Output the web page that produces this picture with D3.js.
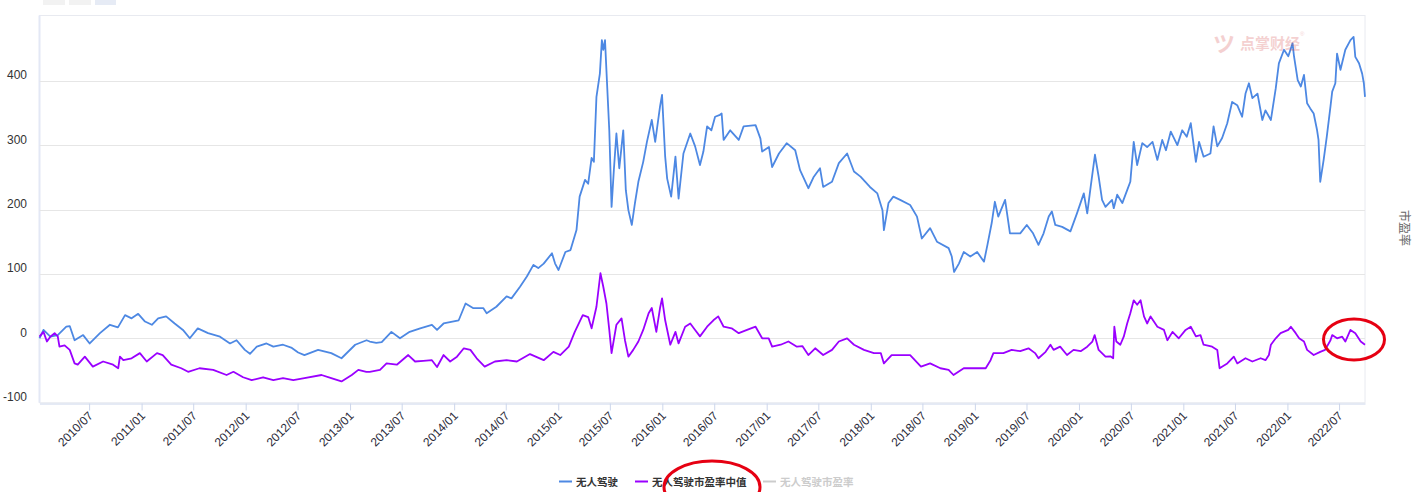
<!DOCTYPE html>
<html><head><meta charset="utf-8">
<script src="https://cdn.jsdelivr.net/npm/d3@7"></script>
<style>
html,body{margin:0;padding:0;background:#fff;}
svg{display:block;font-family:"Liberation Sans",Arial,"Noto Sans CJK SC",sans-serif;}
</style></head>
<body><svg id="c" width="1413" height="492"></svg>
<script>
// ---- data ----
const xTickLabels = ["2010/07","2011/01","2011/07","2012/01","2012/07","2013/01","2013/07","2014/01","2014/07","2015/01","2015/07","2016/01","2016/07","2017/01","2017/07","2018/01","2018/07","2019/01","2019/07","2020/01","2020/07","2021/01","2021/07","2022/01","2022/07"];
const yTicks = [-100,0,100,200,300,400];
const seriesNames = ["无人驾驶","无人驾驶市盈率中值","无人驾驶市盈率"];
const axisTitle = "市盈率";

const blueDates = ["2010-01-08","2010-01-22","2010-02-15","2010-03-13","2010-04-12","2010-04-24","2010-05-11","2010-06-10","2010-07-03","2010-08-08","2010-09-12","2010-10-10","2010-11-04","2010-11-27","2010-12-20","2011-01-13","2011-02-06","2011-02-28","2011-03-28","2011-04-27","2011-05-26","2011-06-19","2011-07-17","2011-08-22","2011-10-03","2011-11-07","2011-11-30","2011-12-29","2012-01-16","2012-02-09","2012-03-14","2012-04-07","2012-05-11","2012-06-11","2012-07-03","2012-07-25","2012-09-11","2012-10-27","2012-12-02","2013-01-19","2013-02-28","2013-03-11","2013-04-03","2013-04-22","2013-05-26","2013-06-25","2013-07-29","2013-09-04","2013-10-15","2013-11-02","2013-11-25","2014-01-17","2014-02-10","2014-03-08","2014-04-13","2014-04-25","2014-05-29","2014-07-04","2014-07-21","2014-08-20","2014-09-13","2014-10-06","2014-10-23","2014-11-11","2014-12-10","2014-12-21","2015-01-02","2015-01-26","2015-02-13","2015-03-06","2015-03-17","2015-04-05","2015-04-16","2015-04-28","2015-05-06","2015-05-15","2015-05-27","2015-06-03","2015-06-08","2015-06-14","2015-06-22","2015-06-29","2015-07-07","2015-07-15","2015-07-24","2015-08-03","2015-08-17","2015-08-26","2015-09-04","2015-09-16","2015-09-27","2015-10-09","2015-10-26","2015-11-08","2015-11-25","2015-12-07","2015-12-24","2015-12-31","2016-01-11","2016-01-18","2016-02-01","2016-02-16","2016-02-27","2016-03-15","2016-04-08","2016-04-25","2016-05-12","2016-05-24","2016-06-06","2016-06-21","2016-07-04","2016-07-21","2016-07-27","2016-08-03","2016-08-26","2016-09-25","2016-10-12","2016-11-23","2016-12-10","2016-12-16","2017-01-09","2017-01-20","2017-02-13","2017-03-12","2017-04-11","2017-04-28","2017-05-27","2017-06-14","2017-07-07","2017-07-18","2017-08-18","2017-09-11","2017-10-10","2017-11-03","2017-11-26","2017-12-29","2018-01-24","2018-02-11","2018-02-16","2018-03-04","2018-03-21","2018-04-14","2018-05-19","2018-06-12","2018-06-29","2018-07-28","2018-08-21","2018-10-01","2018-10-12","2018-10-20","2018-11-06","2018-11-23","2018-12-16","2019-01-09","2019-02-02","2019-02-14","2019-03-01","2019-03-12","2019-03-24","2019-04-17","2019-05-04","2019-06-09","2019-07-02","2019-07-24","2019-08-12","2019-08-30","2019-09-17","2019-09-28","2019-10-10","2019-11-03","2019-12-02","2019-12-25","2020-01-18","2020-01-30","2020-02-11","2020-02-26","2020-03-10","2020-03-22","2020-04-03","2020-04-26","2020-05-02","2020-05-14","2020-06-01","2020-06-18","2020-06-29","2020-07-11","2020-07-23","2020-08-10","2020-08-27","2020-09-15","2020-10-02","2020-10-19","2020-11-01","2020-11-18","2020-12-11","2020-12-28","2021-01-13","2021-01-27","2021-02-14","2021-02-25","2021-03-13","2021-04-06","2021-04-17","2021-04-30","2021-05-17","2021-06-04","2021-06-21","2021-07-09","2021-07-26","2021-08-07","2021-08-19","2021-08-31","2021-09-18","2021-10-05","2021-10-16","2021-11-04","2021-11-21","2021-12-02","2021-12-20","2022-01-04","2022-01-19","2022-01-24","2022-02-06","2022-02-17","2022-02-28","2022-03-11","2022-03-22","2022-04-03","2022-04-15","2022-04-20","2022-04-26","2022-05-08","2022-05-19","2022-06-01","2022-06-07","2022-06-18","2022-06-24","2022-07-06","2022-07-23","2022-08-10","2022-08-21","2022-08-27","2022-09-09","2022-09-20","2022-09-26","2022-09-30"];
const blueValues = [0,13,2.5,5,18,19,-3,5,-8,8,21,17,36,31,38,26,21,31,34,23,13,0,15.5,8,2.5,-8,-3,-18,-24,-13,-8,-13,-10,-15,-22,-26,-18,-23,-31,-10,-3,-5,-7,-6,10,0,10,15.5,21,13,23,28,54,47,47,39,49,65,62,80,96,114,109,116,132,116,106,134,137,168,220,246,240,280,274,375,411,463,448,463,388,323,204,261,318,264,323,230,199,176,210,243,274,305,339,305,360,378,282,248,220,282,217,287,318,298,269,290,329,323,344,347,349,308,323,308,329,331,310,290,297,266,287,303,292,261,233,250,264,235,243,272,287,259,251,235,225,199,168,210,220,215,207,189,155,171,150,140,127,103,116,134,127,134,119,145,179,212,189,215,163,163,176,163,145,163,189,197,176,173,166,194,225,194,235,285,251,215,204,215,202,223,210,230,243,305,269,303,297,305,277,308,292,321,300,323,313,334,274,305,282,287,329,298,311,334,367,362,344,380,396,373,380,339,354,339,388,427,448,438,458,438,401,391,409,365,357,349,323,308,243,277,313,360,383,396,442,417,448,463,468,437,427,411,396,375];

const purpleDates = ["2010-01-08","2010-01-22","2010-02-03","2010-02-15","2010-03-02","2010-03-13","2010-03-19","2010-04-06","2010-04-24","2010-05-11","2010-05-22","2010-06-16","2010-07-14","2010-08-19","2010-09-23","2010-10-11","2010-10-17","2010-10-29","2010-11-27","2010-12-26","2011-01-19","2011-02-24","2011-03-16","2011-04-15","2011-05-20","2011-06-13","2011-07-23","2011-09-09","2011-10-26","2011-11-19","2011-12-23","2012-01-22","2012-03-02","2012-04-07","2012-05-11","2012-06-16","2012-07-25","2012-09-23","2012-10-27","2012-12-02","2013-01-07","2013-01-30","2013-02-27","2013-03-11","2013-04-16","2013-05-09","2013-06-14","2013-07-24","2013-08-17","2013-09-15","2013-10-15","2013-11-02","2013-11-25","2013-12-18","2014-01-11","2014-02-04","2014-02-27","2014-03-21","2014-04-18","2014-05-24","2014-07-04","2014-08-09","2014-09-24","2014-11-11","2014-12-15","2015-01-08","2015-02-07","2015-02-28","2015-03-28","2015-04-16","2015-04-28","2015-05-15","2015-05-29","2015-06-08","2015-06-19","2015-06-29","2015-07-07","2015-07-24","2015-08-11","2015-08-23","2015-09-04","2015-09-21","2015-10-09","2015-10-26","2015-11-14","2015-11-25","2015-12-11","2015-12-24","2015-12-31","2016-01-11","2016-01-29","2016-02-16","2016-02-27","2016-03-21","2016-04-08","2016-04-25","2016-05-12","2016-06-06","2016-06-28","2016-07-15","2016-08-03","2016-08-31","2016-09-25","2016-10-24","2016-11-23","2016-12-16","2017-01-08","2017-01-20","2017-02-19","2017-03-18","2017-04-17","2017-05-06","2017-05-27","2017-06-20","2017-07-18","2017-08-18","2017-09-11","2017-10-10","2017-11-03","2017-12-08","2018-01-12","2018-02-05","2018-02-16","2018-03-15","2018-04-14","2018-05-19","2018-06-26","2018-07-28","2018-09-02","2018-10-01","2018-10-18","2018-11-23","2019-01-09","2019-02-08","2019-02-25","2019-03-07","2019-04-11","2019-05-10","2019-06-09","2019-07-08","2019-07-31","2019-08-12","2019-09-06","2019-09-23","2019-10-04","2019-10-27","2019-11-20","2019-12-13","2020-01-07","2020-01-30","2020-02-17","2020-02-25","2020-03-10","2020-04-03","2020-04-20","2020-04-30","2020-05-04","2020-05-11","2020-05-25","2020-06-06","2020-06-18","2020-06-29","2020-07-11","2020-07-23","2020-08-04","2020-08-16","2020-08-27","2020-09-08","2020-10-02","2020-10-25","2020-11-06","2020-11-24","2020-12-16","2021-01-09","2021-01-27","2021-02-14","2021-03-02","2021-03-13","2021-04-12","2021-04-30","2021-05-08","2021-06-04","2021-06-27","2021-07-09","2021-08-07","2021-08-31","2021-09-29","2021-10-16","2021-10-28","2021-11-04","2021-11-21","2021-12-08","2022-01-04","2022-01-13","2022-01-30","2022-02-11","2022-02-28","2022-03-11","2022-04-03","2022-04-26","2022-05-13","2022-06-01","2022-06-07","2022-06-24","2022-07-12","2022-07-23","2022-08-10","2022-08-27","2022-09-15","2022-09-30"];
const purpleValues = [2.5,10,-5,2.5,8,3,-13,-11,-18,-39,-41,-28.5,-44,-36,-41,-46.5,-28.5,-34,-31,-23,-36,-23,-26,-41,-46.5,-52,-46.5,-49,-57,-52,-60.5,-65,-60.5,-65,-62,-65,-62,-57,-62,-67,-57,-49,-52,-52,-49,-39,-41,-26,-36,-35,-34,-44.5,-26,-36,-28.5,-15.5,-18,-31,-44,-36,-34,-36,-24.5,-34,-21,-26,-13,10,36,33,15.5,49,101,80,54,13,-23,21,31,-3,-28.5,-18,-5,13,39,47,10,47,62,28,-10,10,-8,18,23,13,3,18,28,34,18,15.5,8,13,18,0,0,-13,-10,-5,-13,-12,-26,-15.5,-26,-18,-5,0,-10,-18,-23,-23,-39,-26,-26,-26,-44,-39,-46.5,-49,-57,-46.5,-46.5,-46.5,-34,-23,-23,-18,-20,-15.5,-23,-31,-21,-10,-18,-13,-26,-18,-20,-13,-5,5,-18,-28.5,-28,-31,18,-5,-10,2.5,23,39,59,52,59,34,23,34,18,13,-3,10,0,13,18,3,5,-10,-13,-18,-46.5,-39,-28.5,-39,-31,-36,-31,-34,-26,-10,0,8,13,18,8,0,-5,-18,-26,-21,-18,-3,5,0,2.5,-5,13,8,-5,-10];

// ---- layout ----
const plot = {left: 39.5, right: 1365, top: 15.5};
const parse = d3.timeParse("%Y-%m-%d");
const svg = d3.select("#c");

const x = d3.scaleTime()
  .domain([parse("2010-01-08"), parse("2022-09-30")])
  .range([plot.left, plot.right]);
const y = d3.scaleLinear().domain([-100, 500]).range([402.7, 16.3]);

// range-selector buttons peeking at the top
const btns = [[43,22,"#f2f2f2"],[69,22,"#f2f2f2"],[95,21,"#e6ebf5"]];
svg.selectAll("rect.btn").data(btns).enter().append("rect")
  .attr("x", d => d[0]).attr("y", -10).attr("width", d => d[1]).attr("height", 15)
  .attr("fill", d => d[2]);

// plot border
svg.append("rect").attr("x", plot.left).attr("y", plot.top)
  .attr("width", plot.right - plot.left).attr("height", y(-100) - plot.top)
  .attr("fill", "none").attr("stroke", "#e8eaf0").attr("stroke-width", 1);
svg.append("line").attr("x1", plot.left).attr("x2", plot.left)
  .attr("y1", plot.top).attr("y2", y(-100)).attr("stroke", "#e3e8f5").attr("stroke-width", 2);

// gridlines
svg.append("g").selectAll("line").data(yTicks.filter(v => v > -100)).enter().append("line")
  .attr("x1", plot.left).attr("x2", plot.right)
  .attr("y1", d => Math.round(y(d)) + 0.5).attr("y2", d => Math.round(y(d)) + 0.5)
  .attr("stroke", "#e6e6e6").attr("stroke-width", 1);

// y labels
svg.append("g").selectAll("text").data(yTicks).enter().append("text")
  .attr("x", 27).attr("y", d => y(d) - 1.5)
  .attr("text-anchor", "end").attr("font-size", 12).attr("fill", "#333")
  .text(d => d);

// x axis
const tickDates = xTickLabels.map(s => d3.timeParse("%Y/%m")(s));
const xAxis = d3.axisBottom(x).tickValues(tickDates).tickFormat(d3.timeFormat("%Y/%m")).tickSize(7).tickSizeOuter(0);
const gx = svg.append("g").attr("transform", `translate(0,${Math.round(y(-100)) + 0.5})`).call(xAxis);
gx.select(".domain").attr("stroke", "#ccd6eb");
gx.selectAll(".tick line").attr("stroke", "#ccd6eb");
gx.selectAll(".tick text")
  .attr("font-size", 12).attr("fill", "#2b2b3a").attr("font-family", "Liberation Sans, Arial, sans-serif")
  .attr("text-anchor", "end").attr("dy", null).attr("y", 0)
  .attr("transform", "translate(4,13) rotate(-45)");

// lines
const line = d3.line().x(d => x(d[0])).y(d => y(d[1]));
const blue = blueDates.map((d, i) => [parse(d), blueValues[i]]);
const purple = purpleDates.map((d, i) => [parse(d), purpleValues[i]]);
svg.append("path").datum(blue).attr("d", line).attr("fill", "none")
  .attr("stroke", "#4d88e3").attr("stroke-width", 1.8).attr("stroke-linejoin", "round");
svg.append("path").datum(purple).attr("d", line).attr("fill", "none")
  .attr("stroke", "#9a00ff").attr("stroke-width", 1.8).attr("stroke-linejoin", "round");

// watermark
const wm = svg.append("g").attr("opacity", 0.22);
wm.append("text").attr("x", 1240).attr("y", 49).attr("font-size", 15).attr("font-weight", "bold")
  .attr("fill", "#d03030").attr("font-family", "Noto Sans CJK SC").text("点掌财经");
wm.append("text").attr("x", 1300).attr("y", 36).attr("font-size", 6).attr("fill", "#d03030").text("®");
wm.append("text").attr("x", 1213).attr("y", 52).attr("font-size", 22).attr("font-weight", "bold")
  .attr("fill", "#d03030").attr("font-family", "Noto Sans CJK SC").text("ツ");

// right axis title
svg.append("text").attr("transform", "translate(1400,228) rotate(90)")
  .attr("text-anchor", "middle").attr("font-size", 12).attr("fill", "#666")
  .attr("font-family", "Noto Sans CJK SC").text(axisTitle);

// legend
const legend = [
  {x: 559, color: "#4d88e3", text: seriesNames[0], tc: "#333"},
  {x: 635, color: "#9a00ff", text: seriesNames[1], tc: "#333"},
  {x: 763, color: "#cccccc", text: seriesNames[2], tc: "#cccccc"}
];
const lg = svg.append("g").selectAll("g").data(legend).enter().append("g");
lg.append("line").attr("x1", d => d.x).attr("x2", d => d.x + 13).attr("y1", 481.5).attr("y2", 481.5)
  .attr("stroke", d => d.color).attr("stroke-width", 2);
lg.append("text").attr("x", d => d.x + 17).attr("y", 485.5).attr("font-size", 10.5).attr("font-weight", "bold")
  .attr("fill", d => d.tc).attr("font-family", "Noto Sans CJK SC").text(d => d.text);

// red annotation ellipses
svg.append("ellipse").attr("cx", 712).attr("cy", 487).attr("rx", 48).attr("ry", 26)
  .attr("fill", "none").attr("stroke", "#e60012").attr("stroke-width", 3);
svg.append("ellipse").attr("cx", 1354).attr("cy", 339.5).attr("rx", 30.5).attr("ry", 20.5)
  .attr("fill", "none").attr("stroke", "#e60012").attr("stroke-width", 3);
</script></body></html>
